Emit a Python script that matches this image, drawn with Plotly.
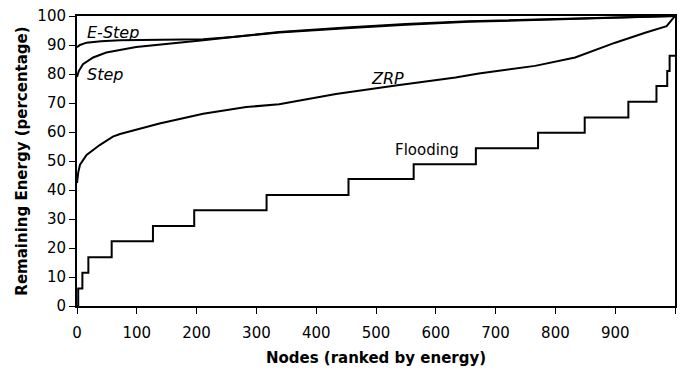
import plotly.graph_objects as go

# Data
estep_nodes = [0, 5, 16, 40, 72, 140, 211, 260, 338, 450, 550, 655, 800, 900, 1000]
estep_vals = [89.2, 90.0, 90.8, 91.3, 91.6, 91.8, 92.0, 92.8, 94.3, 95.8, 97.0, 98.0, 98.9, 99.4, 100.0]

step_nodes = [0, 3, 10, 27, 49, 99, 211, 338, 450, 550, 655, 800, 900, 1000]
step_vals = [79.0, 81.0, 83.4, 85.7, 87.4, 89.3, 91.6, 94.5, 96.0, 97.2, 98.2, 99.1, 99.5, 100.0]

zrp_nodes = [0, 2, 5, 16, 38, 60, 72, 138, 211, 283, 338, 433, 533, 633, 672, 766, 833, 900, 950, 986, 997, 1000]
zrp_vals = [42.4, 46.0, 48.7, 52.1, 55.5, 58.4, 59.3, 62.9, 66.3, 68.6, 69.6, 73.1, 76.0, 78.8, 80.2, 82.8, 85.7, 90.8, 94.2, 96.5, 99.3, 100.0]

flood_nodes = [0, 2, 9, 19, 58, 127, 196, 317, 454, 563, 667, 771, 849, 922, 969, 987, 991, 1000]
flood_vals = [0.0, 6.0, 11.5, 16.8, 22.3, 27.6, 33.0, 38.3, 43.8, 48.9, 54.4, 59.7, 65.0, 70.4, 75.9, 81.0, 86.3, 86.3]

x_ticks = [0, 100, 200, 300, 400, 500, 600, 700, 800, 900, 1000]
x_tick_text = ["0", "100", "200", "300", "400", "500", "600", "700", "800", "900", ""]
y_ticks = [0, 10, 20, 30, 40, 50, 60, 70, 80, 90, 100]

FONT = "'DejaVu Sans', sans-serif"

fig = go.Figure()
line = dict(color="black", width=2)
fig.add_trace(go.Scatter(x=estep_nodes, y=estep_vals, mode="lines", line=line, name="E-Step"))
fig.add_trace(go.Scatter(x=step_nodes, y=step_vals, mode="lines", line=line, name="Step"))
fig.add_trace(go.Scatter(x=zrp_nodes, y=zrp_vals, mode="lines", line=line, name="ZRP"))
fig.add_trace(go.Scatter(x=flood_nodes, y=flood_vals, mode="lines", line=dict(color="black", width=2, shape="hv"), name="Flooding"))

it_font = dict(family=FONT, size=16, color="black")
fig.add_annotation(x=61, y=94.2, text="<i>E-Step</i>", showarrow=False, font=it_font)
fig.add_annotation(x=46, y=80, text="<i>Step</i>", showarrow=False, font=it_font)
fig.add_annotation(x=519, y=78.3, text="<i>ZRP</i>", showarrow=False, font=it_font)
fig.add_annotation(x=585, y=53.8, text="Flooding", showarrow=False, font=dict(family=FONT, size=15, color="black"))

fig.update_layout(
    width=684, height=371,
    margin=dict(l=77, r=7, t=13, b=65),
    plot_bgcolor="white", paper_bgcolor="white",
    showlegend=False,
    font=dict(family=FONT, size=15, color="black"),
)
fig.update_xaxes(
    range=[0, 1000], tickvals=x_ticks, ticktext=x_tick_text,
    ticks="outside", ticklen=6, tickwidth=1, tickcolor="black",
    ticklabelstandoff=6,
    showline=True, linecolor="black", linewidth=2, mirror=True,
    showgrid=False, zeroline=False,
    tickfont=dict(family=FONT, size=15),
    title=dict(text="<b>Nodes (ranked by energy)</b>", font=dict(family=FONT, size=15), standoff=11),
)
fig.update_yaxes(
    range=[0, 100], tickvals=y_ticks,
    ticks="outside", ticklen=6, tickwidth=1, tickcolor="black",
    showline=True, linecolor="black", linewidth=2, mirror=True,
    showgrid=False, zeroline=False,
    tickfont=dict(family=FONT, size=15),
    title=dict(text="<b>Remaining Energy (percentage)</b>", font=dict(family=FONT, size=15), standoff=6),
)

fig.write_html("out.html")
